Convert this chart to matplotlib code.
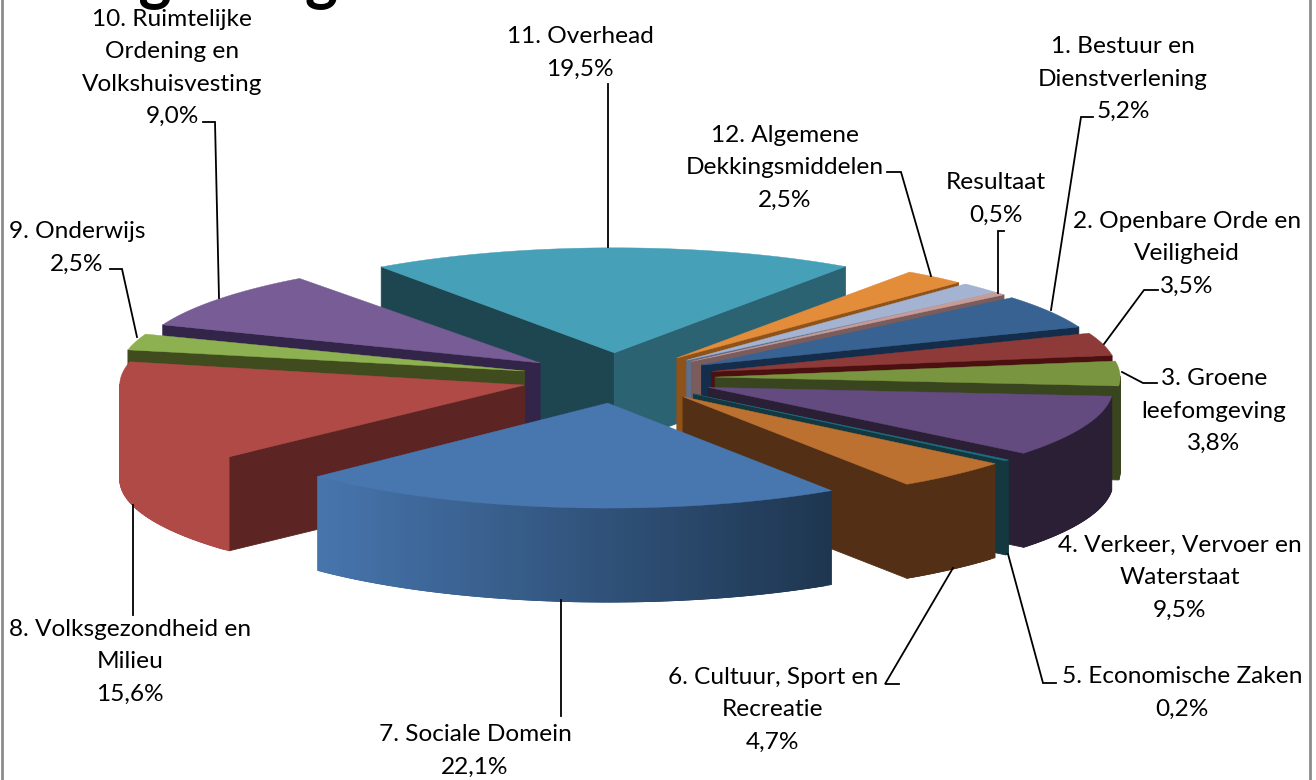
import numpy as np
import matplotlib
matplotlib.use('Agg')
import matplotlib.pyplot as plt
from matplotlib.colors import to_rgb

plt.rcParams['font.family'] = ['Lato', 'DejaVu Sans']

# slices, clockwise (the one without label has no value printed in the chart)
names = ['1. Bestuur en\nDienstverlening', '2. Openbare Orde en\nVeiligheid', '3. Groene\nleefomgeving',
         '4. Verkeer, Vervoer en\nWaterstaat', '5. Economische Zaken', '6. Cultuur, Sport en\nRecreatie',
         '7. Sociale Domein', '8. Volksgezondheid en\nMilieu', '9. Onderwijs',
         '10. Ruimtelijke\nOrdening en\nVolkshuisvesting', '11. Overhead', '12. Algemene\nDekkingsmiddelen',
         '', 'Resultaat']
values = [5.2, 3.5, 3.8, 9.5, 0.2, 4.7, 22.1, 15.6, 2.5, 9.0, 19.5, 2.5, 1.8, 0.5]

top_colors = ['#386292', '#8e3a38', '#7a9540', '#634a7f', '#1d6f82', '#bd7130', '#4877b0',
              '#b04a46', '#8db050', '#785c96', '#46a0b8', '#e38c3a', '#a3b3d1', '#c69c9a']
wall_colors = ['#132d4a', '#4a1110', '#39451f', '#2a1f35', '#14383f', '#533015', '#1e3650',
               '#5c2422', '#404c1e', '#33254a', '#1d4650', '#8f5219', '#5f6e8a', '#7a5c5c']
right_wall = {10: '#2c6373'}

# degrees, the original has some perspective that a flat ellipse does not give
nudge = {7: 1.2, 9: 0.7, 10: 2.0, 11: 2.3, 12: 1.7, 13: 0.5}

# label centres and leader lines, in pixels
label_pos = [(1123, 79), (1187, 254), (1214, 411), (1180, 578), (1182, 693), (773, 710), (475, 751),
             (130, 662), (77, 248), (172, 68), (580, 53), (785, 168), None, (996, 199)]
leaders = [[(1093, 117), (1081, 117), (1051, 310)],
           [(1158, 290), (1144, 290), (1104, 344)],
           [(1157, 383), (1143, 383), (1122, 372)],
           [(1056, 683), (1043, 683), (1008, 554)],
           [(899, 684), (885, 684), (953, 568)],
           [(561, 600), (561, 716)],
           [(133, 505), (133, 615)],
           [(110, 269), (122, 269), (137, 337)],
           [(203, 122), (215, 122), (219, 298)],
           [(608, 84), (608, 247)],
           [(887, 172), (901, 172), (931, 276)],
           [(1004, 231), (998, 231), (998, 293)]]

CX, CY = 618, 378
RX, RY = 405, 105
DEPTH = 94
EXPLODE = 0.24
START = 50


def blend(c1, c2, t):
    c1, c2 = np.array(to_rgb(c1)), np.array(to_rgb(c2))
    return tuple(c1 + (c2 - c1) * t)


def pt(ox, oy, deg):
    t = np.radians(deg)
    return ox + RX * np.sin(t), oy - RY * np.cos(t)


fig = plt.figure(figsize=(13.16, 7.8), dpi=100)
ax = fig.add_axes([0, 0, 1, 1])
ax.set_xlim(0, 1316)
ax.set_ylim(780, 0)
ax.axis('off')

vals = np.array(values)
edges = START + np.concatenate([[0], np.cumsum(vals)]) * 360 / vals.sum()
mids = (edges[:-1] + edges[1:]) / 2

# back to front
for i in np.argsort(-np.cos(np.radians(mids))):
    a, b, m = edges[i] + nudge.get(i, 0), edges[i + 1] + nudge.get(i, 0), mids[i]
    ox = CX + EXPLODE * RX * np.sin(np.radians(m))
    oy = CY - EXPLODE * RY * np.cos(np.radians(m))
    top, wall = top_colors[i], wall_colors[i]

    for ang, visible, col in [(a, np.sin(np.radians(a)) < 0, wall),
                              (b, np.sin(np.radians(b)) > 0, right_wall.get(i, wall))]:
        if visible:
            x, y = pt(ox, oy, ang)
            ax.fill([ox, x, x, ox], [oy, y, y + DEPTH, oy + DEPTH], color=col, lw=0.6)

    # outer wall, only the part facing us, darker to the right
    # strips overlap by one step so no seams show
    th = np.linspace(a, b, max(int(b - a), 2) + 1)
    xs, ys = pt(ox, oy, th)
    for j in range(len(th) - 1):
        if -np.cos(np.radians(th[j] + th[j + 1]) / 2) <= 0:
            continue
        k = min(j + 2, len(th) - 1)
        t = np.clip(((xs[j] + xs[j + 1]) / 2 - 300) / 530, 0, 1)
        sx = np.r_[xs[j:k + 1], xs[j:k + 1][::-1]]
        sy = np.r_[ys[j:k + 1], ys[j:k + 1][::-1] + DEPTH]
        ax.fill(sx, sy, color=blend(top, wall, t), lw=0.6)

    ax.fill(np.r_[ox, xs], np.r_[oy, ys], color=top, lw=0.3)

for line in leaders:
    px, py = zip(*line)
    ax.plot(px, py, color='black', lw=1.3, solid_joinstyle='miter')

for name, val, pos in zip(names, values, label_pos):
    if pos is None:
        continue
    ax.text(pos[0], pos[1], '%s\n%s%%' % (name, ('%.1f' % val).replace('.', ',')),
            ha='center', va='center', fontsize=17.6, linespacing=1.66, color='black')

# heading is cut off by the top of the picture, only the descenders show
ax.text(64, -4, 'Begroting', fontsize=45, fontweight='bold', ha='left', va='baseline', clip_on=False)

# frame
ax.plot([2, 2], [-5, 785], color='#8c8c8c', lw=2)
ax.plot([1310, 1310], [-5, 785], color='#8c8c8c', lw=2)

fig.savefig('out.png', dpi=100)
